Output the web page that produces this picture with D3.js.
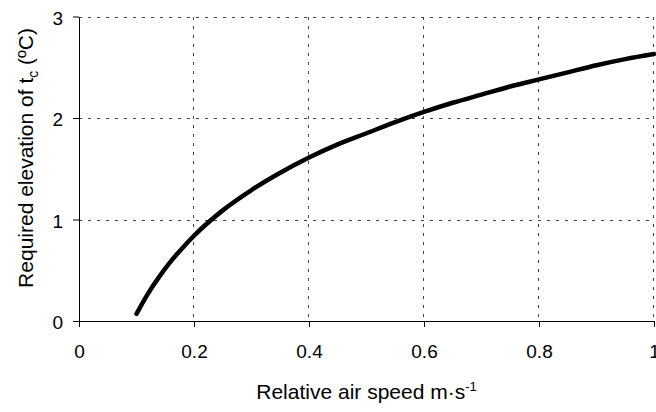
<!DOCTYPE html>
<html>
<head>
<meta charset="utf-8">
<script src="https://cdn.jsdelivr.net/npm/d3@7/dist/d3.min.js"></script>
<style>
  html, body { margin: 0; padding: 0; background: #fff; }
  svg { display: block; }
  text { font-family: "Liberation Sans", Arial, sans-serif; fill: #000; }
</style>
</head>
<body>
<svg id="chart" width="656" height="412"></svg>
<script>
// Relative air speed (m/s) and required elevation of tc (°C)
const airSpeed = [0.10, 0.12, 0.14, 0.16, 0.18, 0.20, 0.25, 0.30, 0.35, 0.40, 0.45,
                  0.50, 0.55, 0.60, 0.65, 0.70, 0.75, 0.80, 0.85, 0.90, 0.95, 1.00];
const elevation = [0.07, 0.27, 0.44, 0.59, 0.72, 0.84, 1.09, 1.29, 1.46, 1.61, 1.74,
                   1.85, 1.96, 2.06, 2.15, 2.23, 2.31, 2.38, 2.45, 2.52, 2.58, 2.63];
const xTicks = [0, 0.2, 0.4, 0.6, 0.8, 1];
const xTickLabels = ["0", "0.2", "0.4", "0.6", "0.8", "1"];
const yTicks = [0, 1, 2, 3];
const yTickLabels = ["0", "1", "2", "3"];

const svg = d3.select("#chart");
const margin = { left: 79, right: 2, top: 16.5, bottom: 91 };
const W = 656, H = 412;
const FONT = "'Liberation Sans', Arial, sans-serif";

const x = d3.scaleLinear().domain([0, 1]).range([margin.left, W - margin.right]);
const y = d3.scaleLinear().domain([0, 3]).range([H - margin.bottom, margin.top]);

// Dashed grid
const grid = svg.append("g").attr("stroke", "#444").attr("stroke-width", 1)
  .attr("stroke-dasharray", "3,6").attr("shape-rendering", "crispEdges");
grid.selectAll("line.v").data(xTicks.slice(1)).join("line")
  .attr("x1", d => Math.round(x(d)) - 0.5).attr("x2", d => Math.round(x(d)) - 0.5)
  .attr("y1", y(3)).attr("y2", y(0));
grid.selectAll("line.h").data(yTicks.slice(1)).join("line")
  .attr("x1", x(0)).attr("x2", x(1))
  .attr("y1", d => Math.round(y(d)) + 0.5).attr("y2", d => Math.round(y(d)) + 0.5);

// Axes
const xAxis = d3.axisBottom(x).tickValues(xTicks)
  .tickFormat((d, i) => xTickLabels[i]).tickSizeInner(6).tickSizeOuter(0).tickPadding(18);
const gx = svg.append("g").attr("transform", `translate(0,${y(0)})`).call(xAxis);
gx.select(".domain").attr("stroke", "#000");
gx.selectAll(".tick line").attr("stroke", "#000");

const yAxis = d3.axisLeft(y).tickValues(yTicks)
  .tickFormat((d, i) => yTickLabels[i]).tickSizeInner(6).tickSizeOuter(0).tickPadding(10);
const gy = svg.append("g").attr("transform", `translate(${x(0)},0)`).call(yAxis);
gy.select(".domain").attr("stroke", "#000");
gy.selectAll(".tick line").attr("stroke", "#000");
gy.selectAll(".tick text").attr("dy", "0.4em");

svg.selectAll(".tick text").attr("font-family", FONT).attr("font-size", 19);

// Curve
const pts = airSpeed.map((v, i) => [v, elevation[i]]);
svg.append("path").datum(pts)
  .attr("fill", "none").attr("stroke", "#000").attr("stroke-width", 4.5)
  .attr("stroke-linecap", "round").attr("stroke-linejoin", "round")
  .attr("d", d3.line().x(d => x(d[0])).y(d => y(d[1])).curve(d3.curveMonotoneX));

// Axis titles
const xt = svg.append("text").attr("x", (x(0) + x(1)) / 2).attr("y", 399)
  .attr("text-anchor", "middle").attr("font-size", 21);
xt.append("tspan").text("Relative air speed m·s");
xt.append("tspan").attr("dy", -8).attr("font-size", 13).text("-1");

const yt = svg.append("text").attr("transform", `translate(33,158) rotate(-90)`)
  .attr("text-anchor", "middle").attr("font-size", 21);
yt.append("tspan").text("Required elevation of t");
yt.append("tspan").attr("dy", 5).attr("font-size", 14).text("c");
yt.append("tspan").attr("dy", -5).text(" (ºC)");
</script>
</body>
</html>
